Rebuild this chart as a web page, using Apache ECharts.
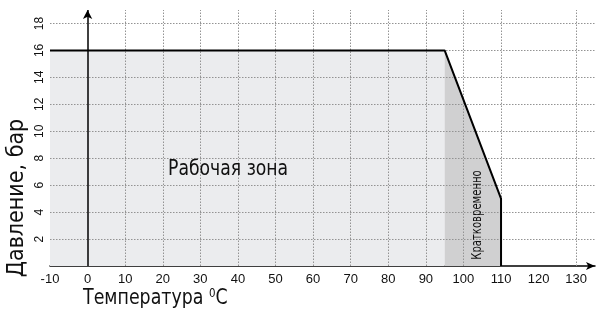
<!DOCTYPE html>
<html>
<head>
<meta charset="utf-8">
<script src="https://cdn.jsdelivr.net/npm/echarts@6/dist/echarts.min.js"></script>
<style>
html,body{margin:0;padding:0;background:#fff;}
#chart{width:615px;height:317px;}
</style>
</head>
<body>
<div id="chart"></div>
<script>
// Data
const xTickLabels = [-10, 0, 10, 20, 30, 40, 50, 60, 70, 80, 90, 100, 110, 120, 130];
const yTickLabels = [2, 4, 6, 8, 10, 12, 14, 16, 18];
const xGridLines = [10, 20, 30, 40, 50, 60, 70, 80, 90, 100, 110, 130];
const yGridLines = [2, 4, 6, 8, 10, 12, 14, 16, 18];
const workZone = [[-10, 16], [95, 16]];
const shortZone = [[95, 16], [110, 5]];
const limitCurve = [[-10, 16], [95, 16], [110, 5], [110, 0]];
const xName = 'Температура';
const yName = 'Давление, бар';
const workLabel = 'Рабочая зона';
const shortLabel = 'Кратковременно';

const FONT = "'DejaVu Sans Condensed', 'Liberation Sans', sans-serif";

const chart = echarts.init(document.getElementById('chart'));
chart.setOption({
  animation: false,
  backgroundColor: '#fff',
  grid: { left: 50, right: 20, top: 10, bottom: 51 },
  xAxis: {
    type: 'value', min: -10, max: 135, interval: 10,
    axisLine: { show: true, onZero: false, symbol: ['none', 'arrow'], symbolSize: [6, 9],
      lineStyle: { color: '#000', width: 1.5 } },
    axisTick: { show: false },
    splitLine: { show: false },
    axisLabel: {
      margin: 7, fontSize: 13, color: '#111', fontFamily: "'Liberation Sans', sans-serif",
      formatter: v => xTickLabels.includes(v) ? String(v) : ''
    }
  },
  yAxis: {
    type: 'value', min: 0, max: 19, interval: 2,
    axisLine: { show: false },
    axisTick: { show: false },
    splitLine: { show: false },
    axisLabel: {
      rotate: 90, margin: 4, fontSize: 12, color: '#111', fontFamily: "'Liberation Sans', sans-serif",
      formatter: v => yTickLabels.includes(v) ? String(v) : ''
    }
  },
  series: [
    {
      type: 'line', data: workZone, symbol: 'none', z: 1, silent: true,
      lineStyle: { width: 0 },
      areaStyle: { color: '#ebecee', opacity: 1 }
    },
    {
      type: 'line', data: shortZone, symbol: 'none', z: 1, silent: true,
      lineStyle: { width: 0 },
      areaStyle: { color: '#d0d0d1', opacity: 1 }
    },
    {
      type: 'line', data: [], z: 3, silent: true,
      markLine: {
        silent: true, symbol: 'none', label: { show: false },
        lineStyle: { type: [1.5, 1.5], color: '#939393', width: 1 },
        data: xGridLines.map(v => ({ xAxis: v })).concat(yGridLines.map(v => ({ yAxis: v })))
      }
    },
    {
      type: 'line', data: limitCurve, symbol: 'none', z: 5, silent: true,
      lineStyle: { color: '#000', width: 2 },
      markLine: {
        silent: true, symbol: ['none', 'arrow'], symbolSize: [7, 9], label: { show: false },
        lineStyle: { type: 'solid', color: '#000', width: 1.5 },
        data: [[{ coord: [0, 0] }, { coord: [0, 19] }]]
      }
    }
  ],
  graphic: [
    {
      type: 'text', x: 168, y: 158, scaleX: 0.87, z: 20,
      style: { text: workLabel, font: "22px " + FONT, fill: '#111' }
    },
    {
      type: 'text', x: 477, y: 215, rotation: Math.PI / 2, scaleX: 0.8, z: 20,
      style: { text: shortLabel, font: "14px " + FONT, fill: '#111', align: 'center', verticalAlign: 'middle' }
    },
    {
      type: 'text', x: 17, y: 198, rotation: Math.PI / 2, z: 20,
      style: { text: yName, font: "23px " + FONT, fill: '#111', align: 'center', verticalAlign: 'middle' }
    },
    {
      type: 'text', x: 83, y: 287, scaleX: 0.88, z: 20,
      style: {
        text: xName + ' {sup|0}C', font: "22px " + FONT, fill: '#111',
        rich: { sup: { fontSize: 13, fontFamily: FONT, verticalAlign: 'top', padding: [0, 0, 10, 0], fill: '#111' } }
      }
    }
  ]
});
</script>
</body>
</html>
